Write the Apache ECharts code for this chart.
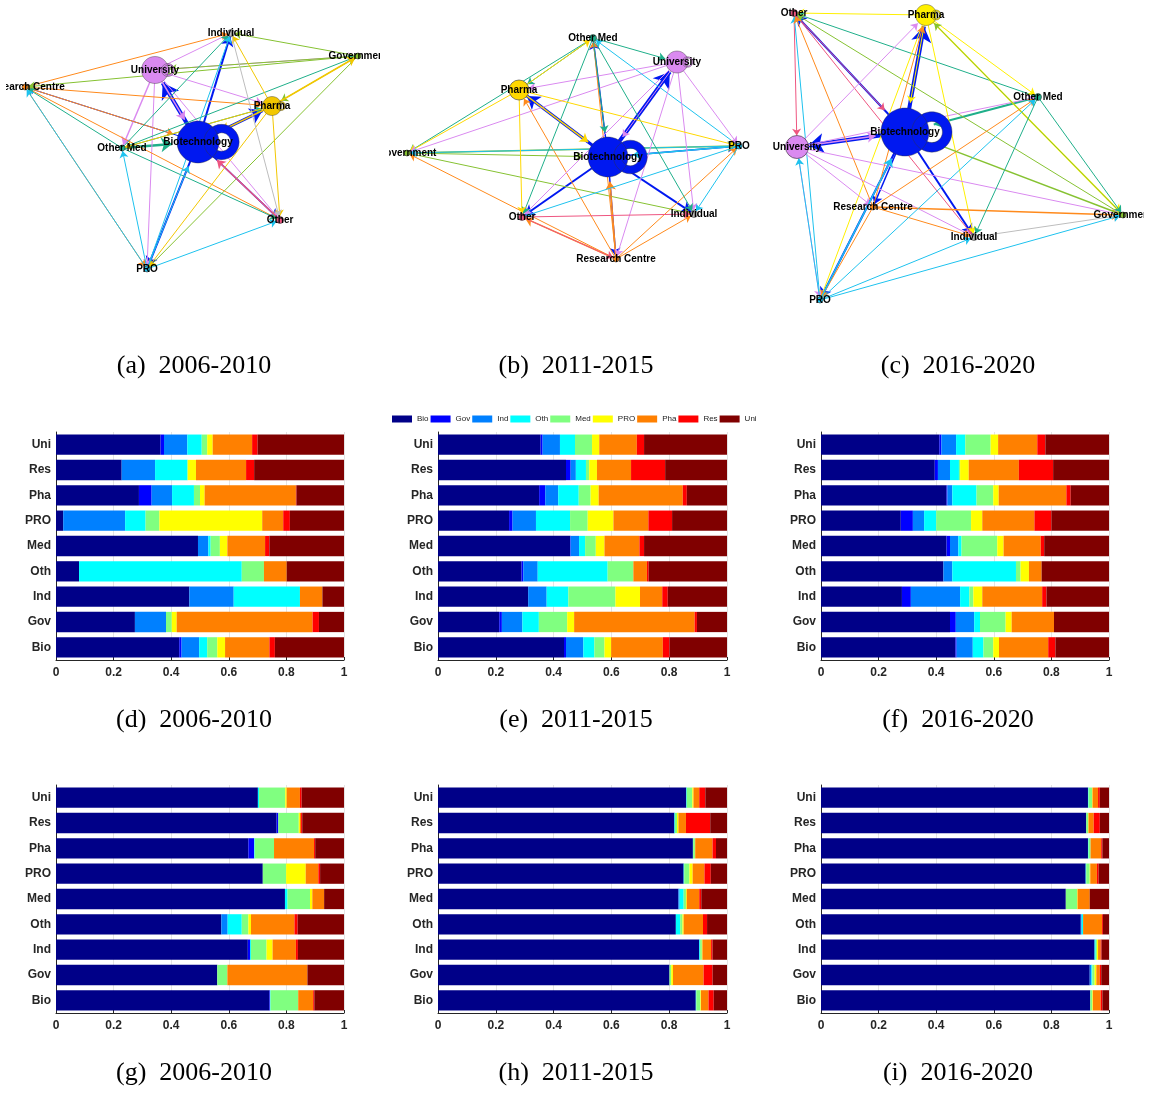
<!DOCTYPE html>
<html><head><meta charset="utf-8">
<script src="https://cdn.jsdelivr.net/npm/echarts/dist/echarts.min.js"></script>
<style>
html,body{margin:0;padding:0;background:#fff;}
#main{position:absolute;left:0;top:0;width:1151px;height:1093px;}
.net{position:absolute;overflow:hidden;}
</style></head><body>
<div id="main"></div>
<div id="netA" class="net" style="left:6px;top:0px;width:374px;height:300px"></div>
<div id="netB" class="net" style="left:389px;top:0px;width:376px;height:300px"></div>
<div id="netC" class="net" style="left:773px;top:0px;width:371px;height:310px"></div>
<script>
// ---------------- DATA ----------------
const categories = ['Bio','Gov','Ind','Oth','Med','PRO','Pha','Res','Uni'];
const partners   = ['Bio','Gov','Ind','Oth','Med','PRO','Pha','Res','Uni'];
const xTicks = [0, 0.2, 0.4, 0.6, 0.8, 1];

// rows in category order (Bio ... Uni), values = share with each partner (Bio ... Uni)
const shareD = [ // (d) 2006-2010
  [.428,.008,.061,.028,.035,.027,.154,.019,.240],
  [.274,0,.108,0,.020,.017,.472,.022,.087],
  [.463,0,.154,.230,0,0,.078,0,.075],
  [.080,0,0,.565,.077,0,.079,0,.199],
  [.493,0,.036,.008,.032,.026,.131,.015,.259],
  [.025,0,.215,.071,.048,.357,.073,.023,.188],
  [.288,.044,.071,.076,.021,.016,.317,.002,.165],
  [.228,0,.116,.113,0,.029,.174,.028,.312],
  [.363,.012,.081,.050,.019,.019,.137,.019,.300]
];
const shareE = [ // (e) 2011-2015
  [.436,.007,.060,.038,.035,.023,.179,.023,.199],
  [.212,.009,.071,.057,.098,.024,.417,.008,.104],
  [.312,0,.064,.075,.163,.085,.077,.019,.205],
  [.289,.006,.050,.242,.089,0,.047,.006,.271],
  [.457,.002,.029,.021,.037,.030,.121,.016,.287],
  [.246,.012,.081,.118,.061,.089,.121,.082,.190],
  [.350,.021,.045,.071,.041,.028,.291,.014,.139],
  [.443,.016,.018,.035,.011,.027,.118,.118,.214],
  [.355,.007,.060,.052,.059,.025,.130,.025,.287]
];
const shareF = [ // (f) 2016-2020
  [.467,.004,.056,.037,.034,.020,.171,.025,.186],
  [.448,.020,.064,.020,.089,.021,.147,0,.191],
  [.281,.031,.171,.032,.014,.031,.208,.015,.217],
  [.425,0,.031,.221,.016,.029,.044,0,.234],
  [.436,.012,.029,.011,.124,.022,.129,.012,.225],
  [.277,.042,.039,.042,.121,.039,.181,.059,.200],
  [.436,.003,.017,.084,.058,.019,.235,.015,.133],
  [.395,.011,.042,.031,.004,.030,.174,.119,.194],
  [.411,.007,.051,.032,.088,.026,.136,.028,.221]
];
const shareG = [ // (g) 2006-2010
  [.741,.002,0,.002,.096,0,.052,.004,.103],
  [.560,0,0,0,.035,0,.278,0,.127],
  [.666,.008,0,.003,.054,.021,.081,.007,.160],
  [.574,0,.022,.049,.023,.009,.151,.011,.161],
  [.795,0,0,.009,.078,.008,.041,0,.069],
  [.718,0,0,0,.081,.068,.044,.006,.083],
  [.668,.020,0,.002,.067,0,.139,.004,.100],
  [.766,.006,0,0,.071,.004,.004,.004,.145],
  [.701,0,0,.004,.091,.005,.046,.006,.147]
];
const shareH = [ // (h) 2011-2015
  [.892,0,0,.002,.014,.002,.026,.018,.046],
  [.801,0,0,0,.006,.006,.106,.031,.050],
  [.904,0,0,.003,.006,.002,.030,.005,.050],
  [.823,0,0,.015,.008,.004,.067,.014,.069],
  [.832,0,.004,.014,.008,.003,.043,.007,.089],
  [.850,0,0,.002,.018,.011,.041,.022,.056],
  [.882,0,0,.001,.006,.001,.060,.012,.038],
  [.818,0,0,.002,.007,.005,.026,.084,.058],
  [.859,0,0,.002,.019,.004,.020,.021,.075]
];
const shareI = [ // (i) 2016-2020
  [.935,0,0,0,.007,.002,.027,.006,.023],
  [.933,0,.006,.003,.008,.006,.012,.005,.027],
  [.950,0,0,.004,.004,.004,.009,.003,.026],
  [.902,0,.003,.005,0,0,.066,.003,.021],
  [.850,0,0,0,.039,.002,.042,0,.067],
  [.919,0,0,.002,.012,.002,.023,.006,.036],
  [.927,0,0,.002,.007,0,.037,.004,.023],
  [.921,0,0,0,.006,.002,.018,.021,.032],
  [.927,0,0,.002,.012,.002,.019,.006,.032]
];
const captionTexts = ['(a)  2006-2010','(b)  2011-2015','(c)  2016-2020',
                      '(d)  2006-2010','(e)  2011-2015','(f)  2016-2020',
                      '(g)  2006-2010','(h)  2011-2015','(i)  2016-2020'];

// network node layouts [name, x, y] (layout units of each panel)
const layoutA = [['Individual',231,33],['Government',358,56],['University',155,70],['Research Centre',25,87],
  ['Pharma',272,106],['Other Med',122,148],['Biotechnology',198,142],['Other',280,220],['PRO',147,269]];
const layoutB = [['Other Med',593,38],['University',677,62],['Pharma',519,90],['Government',407,153],
  ['PRO',739,146],['Biotechnology',608,157],['Other',522,217],['Individual',694,214],['Research Centre',616,259]];
const layoutC = [['Other',794,13],['Pharma',926,15],['Other Med',1038,97],['Biotechnology',905,132],
  ['University',797,147],['Research Centre',873,207],['Government',1123,215],['Individual',974,237],['PRO',820,300]];
// links [source, target, weight]
const linksA = [
 ['Biotechnology','University',4],['Biotechnology','Pharma',3],['Biotechnology','Individual',2],
 ['Biotechnology','PRO',2],['Biotechnology','Other',1.5],['Biotechnology','Research Centre',1],
 ['Biotechnology','Biotechnology',6],['Other Med','Biotechnology',2.5],['University','Biotechnology',1.5],
 ['University','Pharma',1],['University','Government',1],['University','Individual',1],['University','PRO',1],
 ['University','Other',1],['University','Other Med',1.5],['Research Centre','Individual',1],
 ['Research Centre','Pharma',1],['Research Centre','Other',1],['Research Centre','PRO',1],
 ['Research Centre','Biotechnology',1],['Government','Research Centre',1],['Government','Individual',1],
 ['Government','University',1],['Government','PRO',1],['Government','Pharma',1],['Other Med','Government',1],
 ['Other Med','Research Centre',1],['Other Med','Individual',1],['Other Med','Other',1],['Other Med','Pharma',1],
 ['Pharma','Government',1.5],['Pharma','Individual',1],['Pharma','Other',1],['Pharma','PRO',1],
 ['Pharma','Other Med',1],['Pharma','Biotechnology',1.5],['PRO','Other Med',1],['PRO','Research Centre',1],
 ['PRO','Other',1],['PRO','Biotechnology',1],['PRO','Individual',1],['Other','Biotechnology',1.5],
 ['Individual','Other',1],['Pharma','Pharma',1],['University','University',1]
];
const linksB = [
 ['Biotechnology','University',4],['Biotechnology','Pharma',3],['Biotechnology','Individual',2],
 ['Biotechnology','Other',2],['Biotechnology','PRO',1.5],['Biotechnology','Other Med',1.5],
 ['Biotechnology','Research Centre',1.5],['Biotechnology','Biotechnology',6],['Government','PRO',1.5],
 ['Government','Individual',1],['Government','Biotechnology',1],['Other Med','Government',1],
 ['Pharma','Government',1],['University','Government',1],['Research Centre','Government',1],
 ['Research Centre','Other',1.5],['Research Centre','Pharma',1],['Research Centre','PRO',1],
 ['Research Centre','Individual',1],['Research Centre','Other Med',1],['Research Centre','Biotechnology',1.5],
 ['PRO','Government',1],['PRO','Other Med',1],['PRO','Other',1],['PRO','Individual',1],['PRO','Biotechnology',1.5],
 ['University','Pharma',1],['University','Other',1],['University','Individual',1],['University','PRO',1],
 ['University','Research Centre',1],['University','Biotechnology',1],['Other Med','University',1],
 ['Other Med','Other',1],['Other Med','Individual',1],['Other Med','Pharma',1],['Other Med','Biotechnology',1],
 ['Pharma','Other Med',1],['Pharma','PRO',1],['Pharma','Other',1],['Pharma','Biotechnology',1.5],
 ['Other','Individual',1],['Other','Research Centre',1],['University','University',1]
];
const linksC = [
 ['Biotechnology','Pharma',4],['Biotechnology','University',4],['Biotechnology','Other',2],
 ['Biotechnology','Individual',2],['Biotechnology','PRO',2],['Biotechnology','Research Centre',1.5],
 ['Biotechnology','Biotechnology',7],['Other Med','Biotechnology',2],['University','Biotechnology',1.5],
 ['University','Other Med',1],['Pharma','Other',1],['Other','University',1],['Other','Individual',1],
 ['Other','Biotechnology',1],['Other Med','Other',1],['Government','Other',1],['PRO','Other',1],
 ['Research Centre','Other',1],['Pharma','Government',1.5],['Pharma','Individual',1],['Pharma','PRO',1],
 ['Pharma','Other Med',1],['Pharma','Biotechnology',1],['Government','Pharma',1],['University','Pharma',1],
 ['University','Government',1],['University','Individual',1],['University','PRO',1],
 ['University','Research Centre',1],['Research Centre','Government',1.5],['Research Centre','Individual',1],
 ['Research Centre','Other Med',1],['Research Centre','Pharma',1],['Research Centre','PRO',1],
 ['Government','Biotechnology',1.5],['Other Med','Government',1],['Individual','Government',1],
 ['PRO','Government',1],['PRO','Other Med',1],['PRO','Individual',1],['PRO','University',1],
 ['PRO','Biotechnology',1.5],['Other Med','Individual',1],['Pharma','Pharma',1]
];

// ---------------- STYLES ----------------
const partnerColors = ['#000088','#0000FF','#0080FF','#00FFFF','#80FF80','#FFFF00','#FF8000','#FF0000','#800000'];
const nodeSizeA = {'Biotechnology':42,'University':27,'Pharma':19,'Individual':7,'Government':6,'Research Centre':6,'Other Med':6,'Other':7,'PRO':6};
const nodeSizeB = {'Biotechnology':40,'University':22,'Pharma':20,'Individual':7,'Government':6,'Research Centre':6,'Other Med':7,'Other':7,'PRO':6};
const nodeSizeC = {'Biotechnology':48,'University':23,'Pharma':21,'Individual':7,'Government':6,'Research Centre':6,'Other Med':7,'Other':7,'PRO':6};
const nodeColorBase = {'Biotechnology':'#0018F0','University':'#DA8AF0','Individual':'#BDBDBD','Government':'#86C232',
  'Research Centre':'#FF8A1C','Other Med':'#1FAF8A','Other':'#EE5580','PRO':'#1EC2EE'};
const pharmaColors = ['#F2C700','#FFD800','#FFF000'];
const AXIS = '#262626';
const FONT = '"Liberation Sans", Arial, Helvetica, sans-serif';

// ---------------- MAIN CHART (bars + captions) ----------------
const panels = [shareD, shareE, shareF, shareG, shareH, shareI];
const gridLefts = [56, 438, 821];
const gridWidths = [288, 289, 288];
const gridTops = [432, 785];
const grids = [], xAxes = [], yAxes = [], series = [];
panels.forEach((rows, g) => {
  const col = g % 3, row = Math.floor(g / 3);
  grids.push({left: gridLefts[col], top: gridTops[row], width: gridWidths[col], height: 228,
    containLabel: false, outerBoundsMode: 'none'});
  xAxes.push({type: 'value', gridIndex: g, min: 0, max: 1, interval: 0.2,
    axisLine: {show: true, onZero: false, lineStyle: {color: AXIS, width: 1}},
    axisTick: {show: true, inside: true, length: 3, lineStyle: {color: AXIS}},
    splitLine: {show: true, lineStyle: {color: '#e4e4e4', width: 1}},
    axisLabel: {show: true, fontSize: 12, fontWeight: 'bold', color: AXIS, margin: 7, fontFamily: FONT,
      showMinLabel: true, showMaxLabel: true, formatter: v => String(+v.toFixed(1))}});
  yAxes.push({type: 'category', gridIndex: g, data: categories,
    axisLine: {show: true, lineStyle: {color: AXIS, width: 1}},
    axisTick: {show: false}, splitLine: {show: false},
    axisLabel: {fontSize: 12, fontWeight: 'bold', color: AXIS, margin: 5, fontFamily: FONT}});
  partners.forEach((p, k) => {
    series.push({type: 'bar', name: p, stack: 'st' + g, xAxisIndex: g, yAxisIndex: g,
      barWidth: '80%', data: rows.map(r => r[k]),
      itemStyle: {color: partnerColors[k], borderWidth: 0},
      emphasis: {disabled: true}, silent: true});
  });
});
const capX = [194, 576, 958], capY = [366, 720, 1073];
const graphics = captionTexts.map((t, i) => ({
  type: 'text', x: capX[i % 3], y: capY[Math.floor(i / 3)], silent: true,
  style: {text: t, fontSize: 26, fontFamily: '"Liberation Serif", "Times New Roman", serif',
    fill: '#000', align: 'center', verticalAlign: 'middle', textAlign: 'center', textVerticalAlign: 'middle'}
}));
const main = echarts.init(document.getElementById('main'), null, {renderer: 'canvas'});
main.setOption({
  animation: false, backgroundColor: '#fff',
  color: partnerColors,
  legend: {show: true, data: partners, left: 392, top: 415, padding: 0, itemGap: 2,
    itemWidth: 20, itemHeight: 7, icon: 'rect', selectedMode: false,
    itemStyle: {borderWidth: 0},
    textStyle: {fontSize: 8, color: '#222', fontFamily: FONT, width: 14, padding: 0}},
  grid: grids, xAxis: xAxes, yAxis: yAxes, series: series, graphic: graphics,
  tooltip: {show: false}
});

// ---------------- NETWORKS ----------------
// circle as four cubic Beziers; cw = clockwise on screen
function bezCircle(cx, cy, r, cw) {
  const k = 0.5523 * r, f = n => +n.toFixed(2);
  if (cw) {
    return `M${f(cx - r)},${f(cy)}C${f(cx - r)},${f(cy - k)} ${f(cx - k)},${f(cy - r)} ${f(cx)},${f(cy - r)}` +
      `C${f(cx + k)},${f(cy - r)} ${f(cx + r)},${f(cy - k)} ${f(cx + r)},${f(cy)}` +
      `C${f(cx + r)},${f(cy + k)} ${f(cx + k)},${f(cy + r)} ${f(cx)},${f(cy + r)}` +
      `C${f(cx - k)},${f(cy + r)} ${f(cx - r)},${f(cy + k)} ${f(cx - r)},${f(cy)}Z`;
  }
  return `M${f(cx - r)},${f(cy)}C${f(cx - r)},${f(cy + k)} ${f(cx - k)},${f(cy + r)} ${f(cx)},${f(cy + r)}` +
    `C${f(cx + k)},${f(cy + r)} ${f(cx + r)},${f(cy + k)} ${f(cx + r)},${f(cy)}` +
    `C${f(cx + r)},${f(cy - k)} ${f(cx + k)},${f(cy - r)} ${f(cx)},${f(cy - r)}` +
    `C${f(cx - k)},${f(cy - r)} ${f(cx - r)},${f(cy - k)} ${f(cx - r)},${f(cy)}Z`;
}
// symbol for a node carrying a self-loop: node disc plus a ring lobe on its right
function loopGlyph(w) {
  const big = w >= 4;
  const R = big ? 42 : 24, d = big ? 56 : 48, t = big ? 20 : 6;
  const cx = 50 + d, r = R - t, right = cx + R;
  return {path: 'path://' + bezCircle(50, 50, 50, true) + bezCircle(cx, 50, R, true) + bezCircle(cx, 50, r, false),
          widthRatio: right / 100, shift: (right / 2 - 50) / right};
}
function netOption(layout, links, sizes, pharmaColor, boxLeft, boxTop) {
  const xs = layout.map(n => n[1]), ys = layout.map(n => n[2]);
  const minX = Math.min(...xs), maxX = Math.max(...xs), minY = Math.min(...ys), maxY = Math.max(...ys);
  const colorOf = name => name === 'Pharma' ? pharmaColor : nodeColorBase[name];
  const loops = {};
  links.forEach(l => { if (l[0] === l[1]) loops[l[0]] = l[2]; });
  return {
    animation: false,
    series: [{
      type: 'graph', layout: 'none', roam: false, silent: true,
      left: minX - boxLeft, top: minY - boxTop, width: maxX - minX, height: maxY - minY,
      edgeSymbol: ['none', 'arrow'], edgeSymbolSize: [0, 6],
      data: layout.map(n => {
        const s = sizes[n[0]];
        const item = {name: n[0], x: n[1], y: n[2], symbolSize: s,
          itemStyle: {color: colorOf(n[0]), borderColor: '#333', borderWidth: 0.6}};
        if (loops[n[0]] != null) {
          const gl = loopGlyph(loops[n[0]]);
          const w = s * gl.widthRatio;
          item.symbol = gl.path;
          item.symbolKeepAspect = false;
          item.symbolSize = [w, s];
          item.symbolOffset = [(gl.shift * 100).toFixed(2) + '%', 0];
          item.label = {offset: [-gl.shift * w, 0]};
          item.itemStyle.borderWidth = 0.4;
        }
        return item;
      }),
      links: links.filter(l => l[0] !== l[1]).map(l => ({source: l[0], target: l[1],
        symbolSize: [0, 4 + 2.8 * l[2]],
        lineStyle: {width: l[2], color: colorOf(l[0]), opacity: 1, curveness: 0}})),
      lineStyle: {opacity: 1},
      label: {show: true, position: 'inside', color: '#000', fontSize: 10, fontWeight: 'bold', fontFamily: FONT},
      emphasis: {disabled: true}
    }]
  };
}
echarts.init(document.getElementById('netA')).setOption(netOption(layoutA, linksA, nodeSizeA, pharmaColors[0], 6, 0));
echarts.init(document.getElementById('netB')).setOption(netOption(layoutB, linksB, nodeSizeB, pharmaColors[1], 389, 0));
echarts.init(document.getElementById('netC')).setOption(netOption(layoutC, linksC, nodeSizeC, pharmaColors[2], 773, 0));
</script>
</body></html>
